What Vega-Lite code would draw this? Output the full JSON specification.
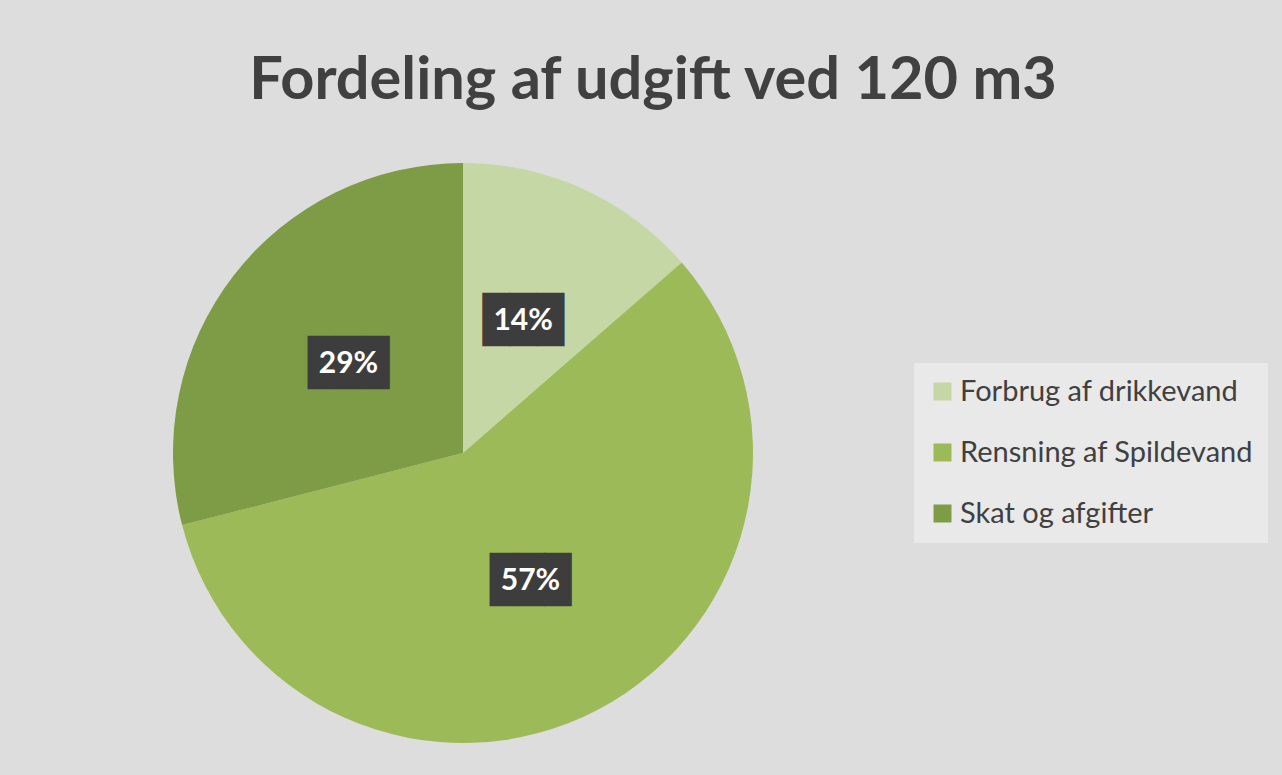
{
  "$schema": "https://vega.github.io/schema/vega-lite/v6.json",
  "width": 580,
  "height": 580,
  "autosize": "none",
  "padding": {"left": 173, "top": 163, "right": 529, "bottom": 32},
  "background": "#dddddd",
  "title": {
    "text": "Fordeling af udgift ved 120 m3",
    "font": "Lato",
    "fontWeight": "bold",
    "fontSize": 59.5,
    "color": "#404040",
    "anchor": "middle",
    "dx": 190,
    "baseline": "alphabetic",
    "offset": 5
  },
  "data": {
    "values": [
      {"kategori": "Forbrug af drikkevand", "andel": 0.136},
      {"kategori": "Rensning af Spildevand", "andel": 0.574},
      {"kategori": "Skat og afgifter", "andel": 0.29}
    ]
  },
  "encoding": {
    "theta": {"field": "andel", "type": "quantitative", "stack": true},
    "order": {"field": "kategori", "type": "ordinal"}
  },
  "layer": [
    {
      "mark": {"type": "arc", "outerRadius": 290},
      "encoding": {
        "color": {
          "field": "kategori",
          "type": "nominal",
          "scale": {"range": ["#c4d7a5", "#9cbb58", "#7e9b46"]},
          "legend": {
            "title": null,
            "orient": "none",
            "legendX": 741,
            "legendY": 200,
            "symbolType": "square",
            "symbolSize": 324,
            "symbolStrokeWidth": 0,
            "labelFont": "Lato",
            "labelFontSize": 29,
            "labelLimit": 500,
            "labelColor": "#404040",
            "labelOffset": 3,
            "rowPadding": 31,
            "fillColor": "#e9e9e9",
            "padding": 14
          }
        }
      }
    },
    {
      "mark": {"type": "text", "radius": 145, "font": "DejaVu Sans Mono", "fontSize": 45, "color": "#3d3d3d", "text": "███", "baseline": "middle", "align": "center"}
    },
    {
      "mark": {"type": "text", "radius": 145, "font": "Lato", "fontWeight": "bold", "fontSize": 30, "color": "#ffffff", "baseline": "middle", "align": "center"},
      "encoding": {
        "text": {"field": "andel", "type": "quantitative", "format": ".0%"}
      }
    }
  ]
}
